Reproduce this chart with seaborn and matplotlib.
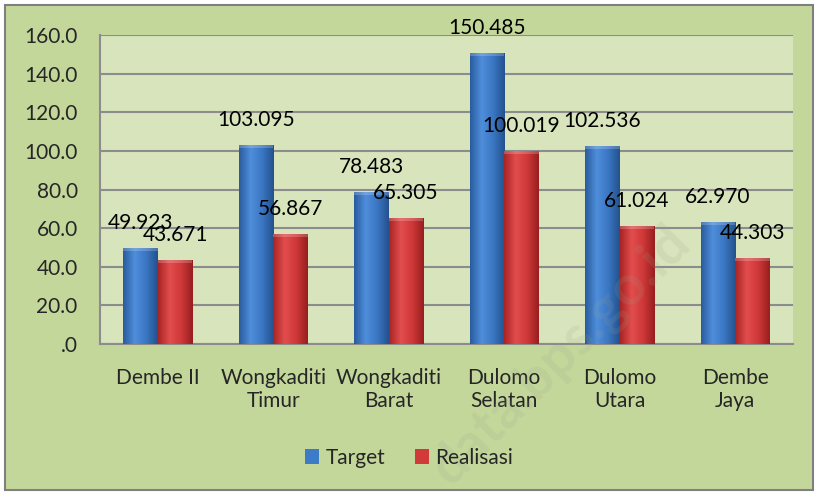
import numpy as np
import pandas as pd
import seaborn as sns
import matplotlib.pyplot as plt
from matplotlib.patches import Rectangle
from matplotlib.colors import LinearSegmentedColormap

desa = ['Dembe II', 'Wongkaditi\nTimur', 'Wongkaditi\nBarat', 'Dulomo\nSelatan', 'Dulomo\nUtara', 'Dembe\nJaya']
target = [49.923, 103.095, 78.483, 150.485, 102.536, 62.970]
realisasi = [43.671, 56.867, 65.305, 100.019, 61.024, 44.303]
yticks = [0, 20, 40, 60, 80, 100, 120, 140, 160]

df = pd.DataFrame({'Desa': desa * 2,
                   'Nilai': target + realisasi,
                   'Seri': ['Target'] * len(desa) + ['Realisasi'] * len(desa)})
palette = {'Target': '#3C7BC8', 'Realisasi': '#D23A3A'}

sns.set_style('white')
plt.rcParams['font.family'] = ['Lato', 'DejaVu Sans']

fig = plt.figure(figsize=(8.18, 4.94), dpi=100, facecolor='white')
fig.patches.append(Rectangle((0.006, 0.008), 0.988, 0.982, transform=fig.transFigure,
                             facecolor='#C4D79B', edgecolor='#7F7F7F', lw=1.5, zorder=-10))
ax = fig.add_axes([0.1222, 0.3036, 0.8472, 0.6255])
ax.set_facecolor('#D8E4BC')

sns.barplot(data=df, x='Desa', y='Nilai', hue='Seri', palette=palette, width=0.6,
            ax=ax, legend=True, saturation=1, edgecolor='none', zorder=3)

# gradient shading on bars
grads = {'Target': ['#2A5C9E', '#4F8EDB', '#3A76C2', '#24528F'],
         'Realisasi': ['#A82424', '#E24D4D', '#CF3838', '#981F1F']}
for cont, name, vals in zip(ax.containers, ['Target', 'Realisasi'], [target, realisasi]):
    cmap = LinearSegmentedColormap.from_list(name, grads[name])
    for bar, val in zip(cont, vals):
        x0, w, h = bar.get_x(), bar.get_width(), bar.get_height()
        im = ax.imshow(np.linspace(0, 1, 64).reshape(1, -1), cmap=cmap, aspect='auto',
                       extent=[x0, x0 + w, 0, h], zorder=4)
        im.set_clip_path(bar)
        ax.add_patch(Rectangle((x0, h - 1.5), w, 1.5, facecolor='white', alpha=0.2,
                               edgecolor='none', zorder=5))
        ax.annotate(f'{val:.3f}', (x0 + w / 2, h), xytext=(0, 18), textcoords='offset points',
                    ha='center', va='center', fontsize=15, color='black', zorder=6)

ax.set_xlim(-0.5, len(desa) - 0.5)
ax.set_ylim(0, 160)
ax.set_yticks(yticks)
ax.set_yticklabels(['.0'] + [f'{v:.1f}' for v in yticks[1:]], fontsize=15)
ax.yaxis.grid(True, color='#8C8C8C', lw=1.5, zorder=0)
ax.set_axisbelow(True)
for s in ['top', 'right']:
    ax.spines[s].set_visible(False)
for s in ['left', 'bottom']:
    ax.spines[s].set_color('#8C8C8C')
    ax.spines[s].set_linewidth(1.5)
ax.tick_params(axis='y', length=6, width=1.5, color='#8C8C8C', pad=10)
ax.tick_params(axis='x', which='major', length=0, pad=17, labelsize=15)
ax.set_xticks(np.arange(-0.5, len(desa)), minor=True)
ax.tick_params(axis='x', which='minor', length=6, width=1.5, color='#8C8C8C')
ax.set_xlabel('')
ax.set_ylabel('')

handles, labels = ax.get_legend_handles_labels()
ax.get_legend().remove()
fig.legend(handles, labels, loc='center', bbox_to_anchor=(0.5, 0.073), ncol=2, frameon=False,
           fontsize=15, handlelength=0.7, handleheight=0.7, handletextpad=0.3, columnspacing=1.4)

fig.text(0.685, 0.28, 'data.bps.go.id', rotation=45, fontsize=40, fontweight='bold',
         color='#9AA58A', alpha=0.15, ha='center', va='center')

fig.savefig('out.png', dpi=100, facecolor='white')
